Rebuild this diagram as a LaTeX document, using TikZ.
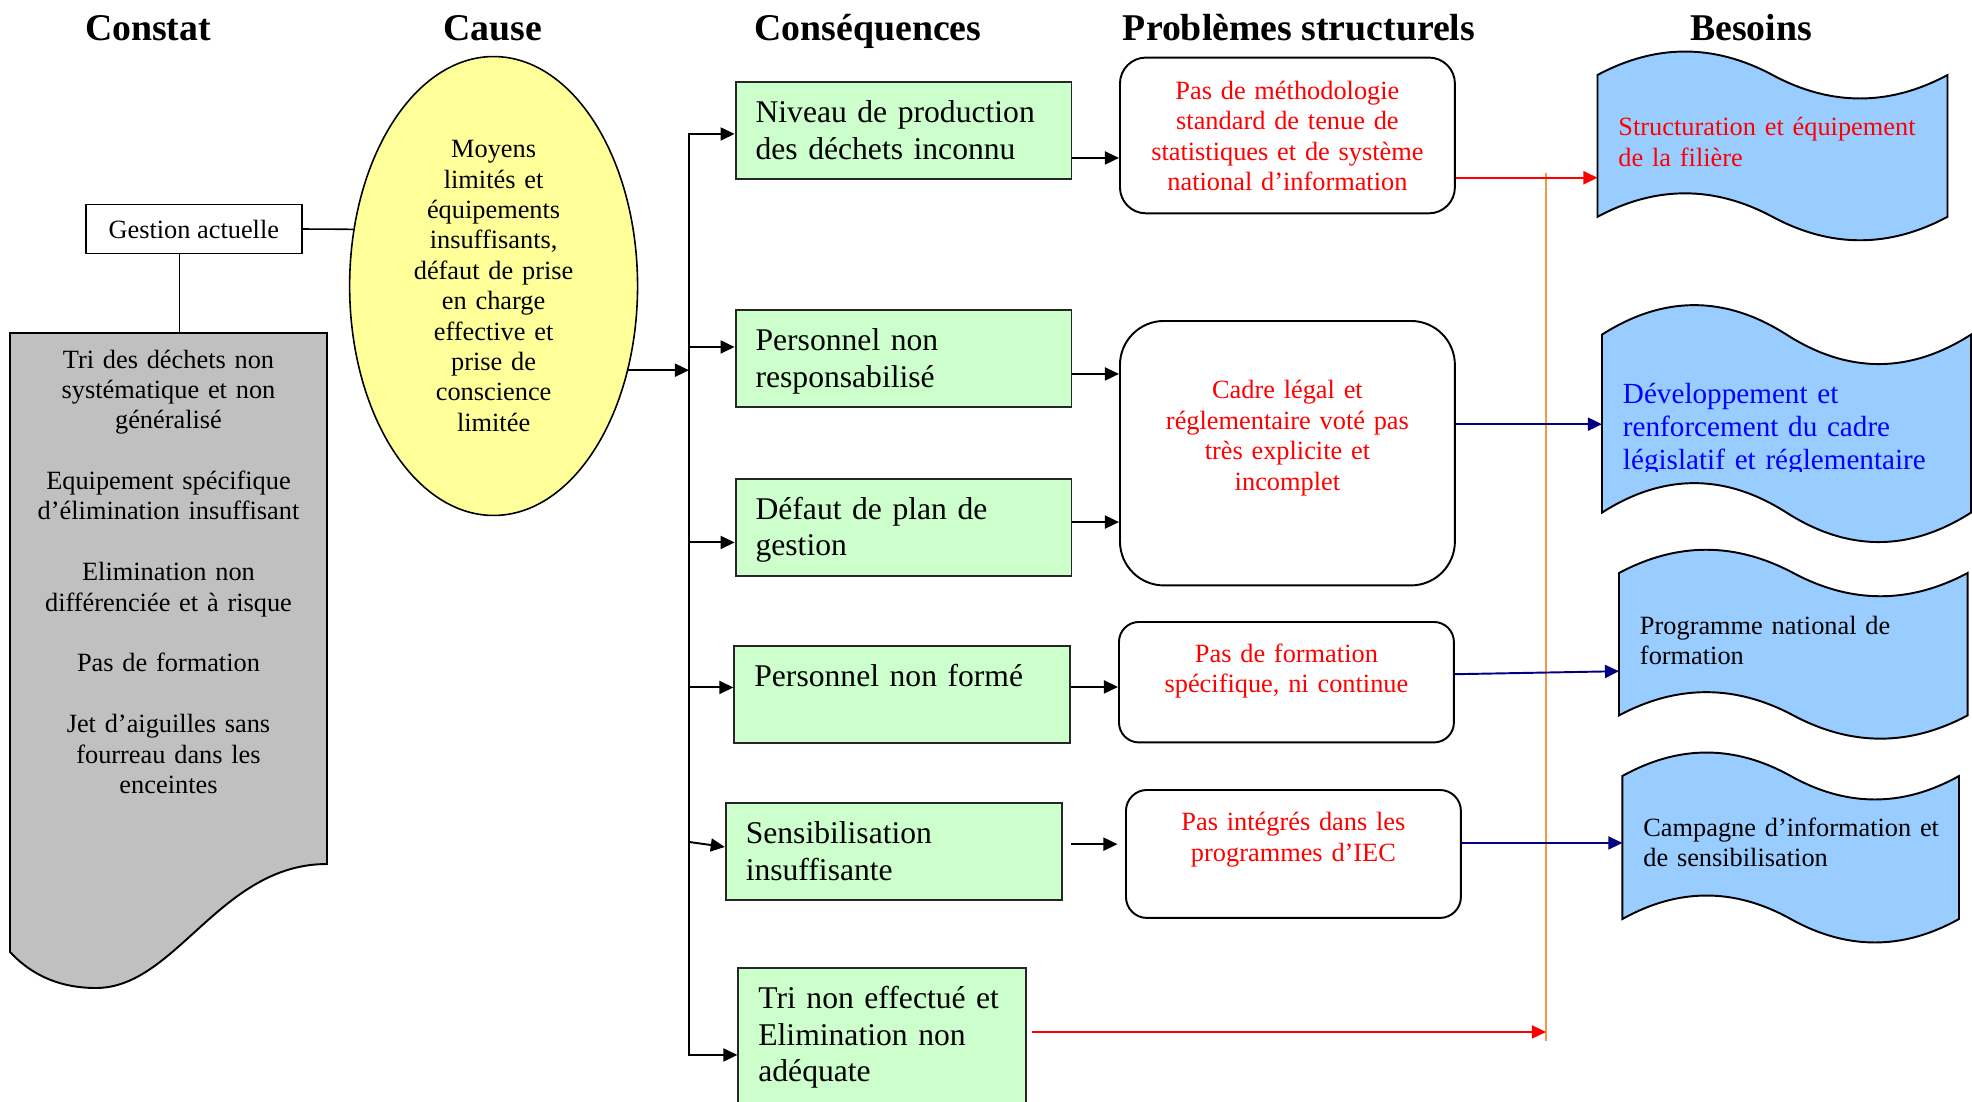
\documentclass[tikz,border=0pt]{standalone}
\usepackage{fontspec}
\setmainfont{Liberation Serif}
\usetikzlibrary{arrows.meta,shapes.geometric,calc}

\definecolor{vertclair}{RGB}{204,255,204}
\definecolor{jaune}{RGB}{255,255,153}
\definecolor{bleuciel}{RGB}{153,204,255}
\definecolor{grisdoc}{RGB}{192,192,192}
\definecolor{marine}{RGB}{0,0,128}
\definecolor{bleuvif}{RGB}{0,0,255}
\definecolor{orangetrait}{RGB}{247,150,70}

\tikzset{titre node/.style={anchor=base,font=\fontsize{21.5}{24}\selectfont\bfseries},
}

% banniere ondulee : x, y (coin haut gauche), largeur, hauteur, ecart des points de controle
\newcommand{\vague}[5]{%
  \draw[fill=bleuciel] (#1,#2)
    .. controls ({#1+#3/6},{#2-#5}) and ({#1+#3/3},{#2-#5}) .. ({#1+#3/2},#2)
    .. controls ({#1+2*#3/3},{#2+#5}) and ({#1+5*#3/6},{#2+#5}) .. ({#1+#3},#2)
    -- ({#1+#3},{#2+#4})
    .. controls ({#1+5*#3/6},{#2+#4+#5}) and ({#1+2*#3/3},{#2+#4+#5}) .. ({#1+#3/2},{#2+#4})
    .. controls ({#1+#3/3},{#2+#4-#5}) and ({#1+#3/6},{#2+#4-#5}) .. (#1,{#2+#4})
    -- cycle;}

\begin{document}
\begin{tikzpicture}[x=0.02cm,y=-0.02cm,>={Triangle[length=8pt,width=7.4pt]},line width=1.1pt,
texte/.style={font=\fontsize{15}{17.3}\selectfont},
conseq node/.style={draw=black!85,fill=vertclair,anchor=north west,align=left,text width=5.92cm,
  inner xsep=0.4cm,inner ysep=0pt,text height=0.82cm,text depth=1.12cm,font=\fontsize{18}{20.7}\selectfont},
probleme node/.style={draw,fill=white,text=red,anchor=north west,align=center,text width=6.3cm,
  inner xsep=0.2cm,inner ysep=0pt,texte},
besoin node/.style={anchor=base west,align=left,text width=6.8cm,inner xsep=0.4cm,texte},
fleche/.style={->},
rouge fleche/.style={->,red},
bleu fleche/.style={->,marine}]

\useasboundingbox (0,0) rectangle (1972,1102);

% titres des colonnes
\node[titre node] (tconstat) at (148,40) {Constat};
\node[titre node] (tcause) at (493,40) {Cause};
\node[titre node] (tconseq) at (868,40) {Conséquences};
\node[titre node] (tprob) at (1299,40) {Problèmes structurels};
\node[titre node] (tbesoins) at (1751,40) {Besoins};

% constat
\draw[fill=grisdoc] (10,333) -- (327,333) -- (327,864)
  .. controls (220,864) and (176,988) .. (96,988)
  .. controls (51,988) and (25,968) .. (10,952) -- cycle;
\coordinate (doctop) at (179.5,333);
\node[texte,anchor=base,align=center,text width=6cm] (constat) at (168.5,368)
  {Tri des déchets non\\systématique et non\\généralisé\\[17.3pt]Equipement spécifique\\d’élimination insuffisant\\[17.3pt]Elimination non\\différenciée et à risque\\[17.3pt]Pas de formation\\[17.3pt]Jet d’aiguilles sans\\fourreau dans les\\enceintes};
\node[texte,draw,minimum width=4.33cm,minimum height=0.98cm] (gestion) at (193.8,229) {Gestion actuelle};

% cause
\node[texte,ellipse,draw,fill=jaune,line width=0.9pt,minimum width=5.76cm,minimum height=9.18cm,
  inner sep=0pt,align=center,text width=3.3cm] (cause) at (493.6,286)
  {Moyens\\limités et\\équipements\\insuffisants,\\défaut de prise\\en charge\\effective et\\prise de\\conscience\\limitée};

\draw[line width=0.9pt] (gestion.east) -- (cause.158);
\draw[line width=0.9pt] (gestion.south -| doctop) -- (doctop);

% consequences
\node[conseq node] (cons1) at (734.6,81) {Niveau de production\\des déchets inconnu};
\node[conseq node] (cons2) at (734.6,309) {Personnel non\\responsabilisé};
\node[conseq node] (cons3) at (734.6,477.6) {Défaut de plan de\\gestion};
\node[conseq node] (cons4) at (733.4,645) {Personnel non formé};
\node[conseq node] (cons5) at (724.8,801.7) {Sensibilisation\\insuffisante};
\node[conseq node,text width=4.96cm,text depth=2.18cm] (cons6) at (737.4,967) {Tri non effectué et\\Elimination non\\adéquate};

\coordinate (bushaut) at (689,133);
\coordinate (busbas) at (689,1056);
\draw (bushaut) -- (busbas);
\draw[fleche] (cause.328) -- (cause.328 -| bushaut);

\draw[fleche] ($(bushaut |- cons1.west)+(0,3.5)$) -- ($(cons1.west)+(0,3.5)$);
\draw[fleche] ($(bushaut |- cons2.west)+(0,-11.5)$) -- ($(cons2.west)+(0,-11.5)$);
\draw[fleche] ($(bushaut |- cons3.west)+(0,15.4)$) -- ($(cons3.west)+(0,15.4)$);
\draw[fleche] ($(bushaut |- cons4.west)+(0,-7)$) -- ($(cons4.west)+(0,-7)$);
\draw[fleche] ($(bushaut |- cons5.west)+(0,-9.2)$) -- ($(cons5.west)+(0,-4.2)$);
\draw[fleche] ($(bushaut |- cons6.west)+(0,12)$) -- ($(cons6.west)+(0,12)$);

% problemes structurels
\node[probleme node,rounded corners=0.52cm,text height=0.84cm,text depth=2.276cm] (prob1) at (1119,56.6)
  {Pas de méthodologie\\standard de tenue de\\statistiques et de système\\national d’information};
\node[probleme node,rounded corners=0.88cm,text height=1.56cm,text depth=3.73cm] (prob2) at (1119,320)
  {Cadre légal et\\réglementaire voté pas\\très explicite et\\incomplet};
\node[probleme node,rounded corners=0.4cm,text height=0.81cm,text depth=1.6cm] (prob3) at (1118,621)
  {Pas de formation\\spécifique, ni continue};
\node[probleme node,rounded corners=0.42cm,text height=0.82cm,text depth=1.74cm] (prob4) at (1125,789)
  {Pas intégrés dans les\\programmes d’IEC};

\draw[fleche] ($(cons1.east)+(0,27.5)$) -- ($(cons1.east -| prob1.west)+(0,27.5)$);
\draw[fleche] ($(cons2.east)+(0,15.5)$) -- ($(cons2.east -| prob2.west)+(0,15.5)$);
\draw[fleche] ($(cons3.east)+(0,-5)$) -- ($(cons3.east -| prob2.west)+(0,-5)$);
\draw[fleche] ($(cons4.east)+(0,-7.5)$) -- ($(cons4.east -| prob3.west)+(0,-7.5)$);
\draw[fleche,shorten <=0.16cm,shorten >=0.15cm] ($(cons5.east)+(0,-7)$) -- ($(cons5.east -| prob4.west)+(0,-7)$);

% besoins
\vague{1597.5}{75}{350}{141.8}{31.3}
\vague{1602}{334.6}{369}{178}{39.3}
\vague{1619}{573}{348.6}{142.4}{31}
\vague{1622.4}{776}{336.6}{143}{31.3}

\node[besoin node,text=red] (bes1) at (1597.5,135.7) {Structuration et équipement\\de la filière};
\begin{scope}
  \clip (1600,300) rectangle (1972,471);
  \node[besoin node,text=bleuvif,font=\fontsize{16.6}{18.7}\selectfont] (bes2) at (1602,403.6)
    {Développement et\\renforcement du cadre\\législatif et réglementaire};
\end{scope}
\node[besoin node] (bes3) at (1619,634) {Programme national de\\formation};
\node[besoin node] (bes4) at (1622.4,836) {Campagne d’information et\\de sensibilisation};

% liaisons vers les besoins
\coordinate (orhaut) at (1546,173);
\coordinate (orbas) at (1546,1041);
\draw[orangetrait,line width=0.6pt] (orhaut) -- (orbas);

\draw[rouge fleche] ($(prob1.east)+(0,42.3)$) -- ($(prob1.east -| bes1.west)+(0,42.3)$);
\draw[bleu fleche] ($(prob2.east)+(0,-29)$) -- ($(prob2.east -| bes2.west)+(0,-29)$);
\draw[bleu fleche] ($(prob3.east)+(0,-8)$) -- ($(prob3.east -| bes3.west)+(0,-11)$);
\draw[bleu fleche] ($(prob4.east)+(0,-11)$) -- ($(prob4.east -| bes4.west)+(0,-11)$);
\draw[rouge fleche,shorten <=0.1cm] ($(cons6.east)+(0,-11)$) -- ($(cons6.east -| orbas)+(0,-11)$);
\end{tikzpicture}
\end{document}
